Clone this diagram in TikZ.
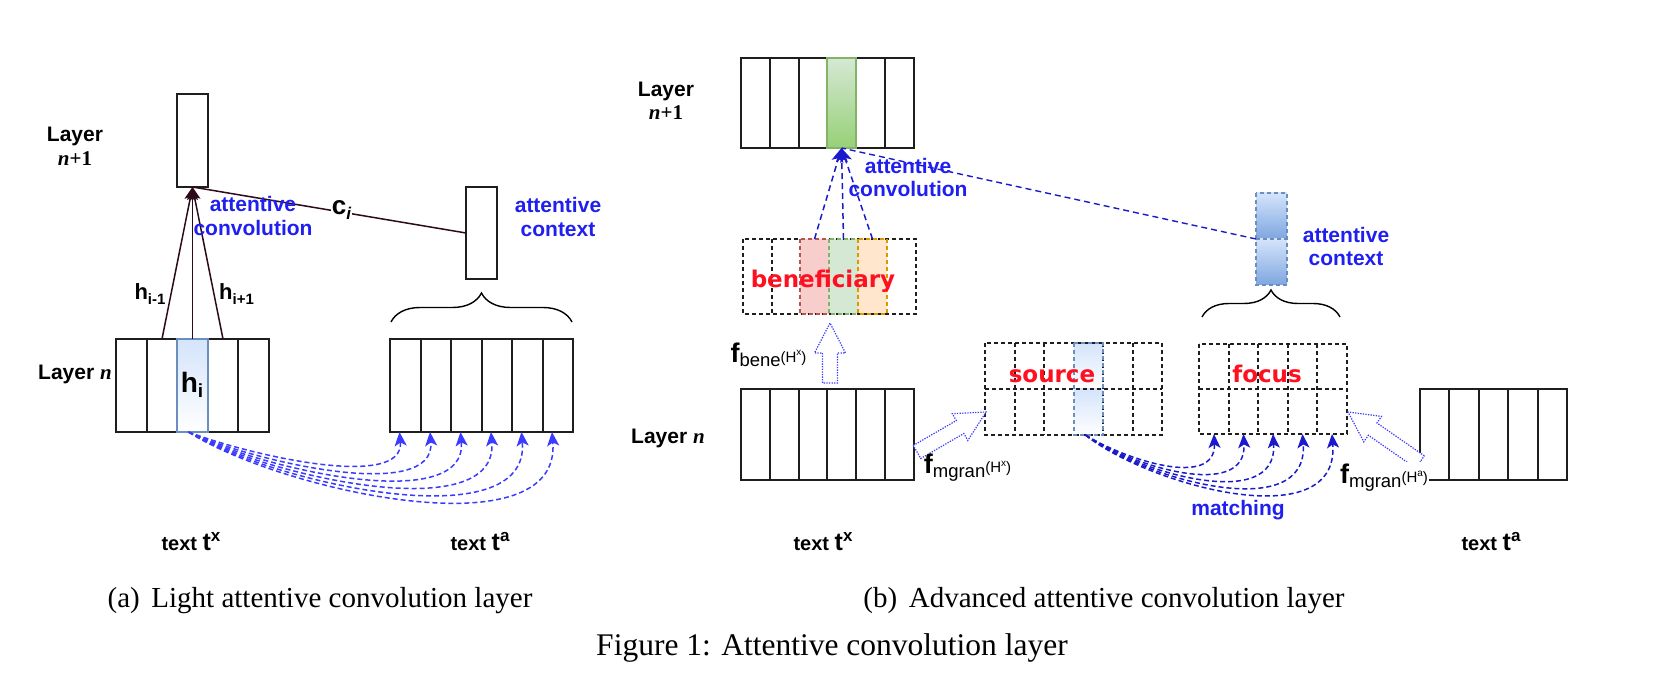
\documentclass[tikz,border=0pt]{standalone}
\usepackage{fontspec}
\setmainfont{Liberation Serif}
\newfontfamily\hv{Liberation Sans}
\newfontfamily\rdfont{DejaVu Sans}
\usetikzlibrary{arrows.meta,decorations.pathreplacing}
\definecolor{darkc}{HTML}{2D0A1A}
\definecolor{lblue}{HTML}{3B3BFF}
\definecolor{dblue}{HTML}{1A1ACC}
\definecolor{tblue}{HTML}{1F1FF0}
\definecolor{tred}{HTML}{FF1020}
\definecolor{bfill}{HTML}{D4E4FB}
\definecolor{bbord}{HTML}{6C8EBF}
\definecolor{bdark}{HTML}{7EA6E0}
\definecolor{gfill}{HTML}{D5E8D4}
\definecolor{gdark}{HTML}{97D077}
\definecolor{gbord}{HTML}{82B366}
\definecolor{rfill}{HTML}{F8CECC}
\definecolor{rbord}{HTML}{B85450}
\definecolor{ofill}{HTML}{FFE6CC}
\definecolor{obord}{HTML}{D79B00}
\definecolor{fgray}{HTML}{1E1E1E}
\newcommand\flab[2]{{\fontsize{27}{27}\selectfont\bfseries f}\raisebox{-4pt}{\fontsize{18.5}{18.5}\selectfont #1}\raisebox{1pt}{\fontsize{15}{15}\selectfont (H\raisebox{6pt}{\fontsize{10}{10}\selectfont #2})}}
\newcommand\hsub[4]{{\fontsize{#1}{#1}\selectfont\bfseries h}\raisebox{-#3}{\fontsize{#2}{#2}\selectfont\bfseries #4}}
\newcommand\tlab[1]{{\fontsize{20}{20}\selectfont\bfseries text }{\fontsize{25}{25}\selectfont\bfseries t}\raisebox{9pt}{\fontsize{17}{17}\selectfont\bfseries #1}}
\begin{document}
\begin{tikzpicture}[x=1pt,y=-1pt,
  cell/.style={draw=fgray, line width=2pt, inner sep=0pt, outer sep=0pt, anchor=north west},
  gcell/.style={draw=none, inner sep=0pt, outer sep=0pt, anchor=north west},
  dgrid/.style={draw=fgray, line width=1.6pt, dash pattern=on 4pt off 3pt},
  lbl/.style={font=\hv\bfseries\fontsize{21}{23.5}\selectfont, align=center, inner sep=0pt},
  blbl/.style={lbl, text=tblue},
  slbl/.style={font=\hv, inner sep=0pt, anchor=base},
  rlbl/.style={font=\rdfont\bfseries\fontsize{23}{23}\selectfont, text=tred, inner sep=0pt, anchor=base},
  captxt/.style={font=\fontsize{29}{29}\selectfont, inner sep=0pt, anchor=base},
  darr/.style={draw=darkc, line width=1.5pt, -{Stealth[length=13pt,width=11pt,inset=3pt]}},
  dline/.style={draw=darkc, line width=1.5pt},
  lcurve/.style={draw=lblue, line width=1.5pt, dash pattern=on 5pt off 3pt, -{Stealth[length=14pt,width=12pt,inset=3.5pt]}},
  barr/.style={draw=dblue, line width=1.5pt, dash pattern=on 6pt off 4pt, -{Stealth[length=14pt,width=12pt,inset=3.5pt]}},
  bdash/.style={draw=dblue, line width=1.4pt, dash pattern=on 6pt off 4pt},
  mcurve/.style={draw=dblue, line width=1.5pt, dash pattern=on 5pt off 3pt, -{Stealth[length=14pt,width=12pt,inset=3.5pt]}},
  blk/.style={draw=lblue, line width=1.2pt, dash pattern=on 1.3pt off 1.3pt, fill=white, line join=miter},
  brc/.style={draw=black, line width=1.4pt, decorate, decoration={brace, amplitude=#1}},
]
\path[use as bounding box] (0,0) rectangle (1668,684);

% ---------------- panel (a) ----------------
\node[cell, minimum width=31pt, minimum height=93pt] (topL) at (177,94) {};
\foreach \i/\x/\w in {1/116/31, 2/147/30, 4/208/30, 5/238/31}
  \node[cell, minimum width=\w pt, minimum height=93pt] (a\i) at (\x,339) {};
\node[cell, draw=bbord, top color=bfill, bottom color=white, minimum width=31pt, minimum height=93pt] (a3) at (177,339) {};
\node[cell, minimum width=31pt, minimum height=92pt] (ctxL) at (466,187) {};
\foreach \i/\x/\w in {1/390/31, 2/421/30, 3/451/31, 4/482/30, 5/512/31, 6/543/30}
  \node[cell, minimum width=\w pt, minimum height=93pt] (b\i) at (\x,339) {};

\draw[dline] (ctxL.west) -- (topL.south);
\draw[darr] (a2.north) -- (topL.south);
\draw[darr] (a3.north) -- (topL.south);
\draw[darr] (a4.north) -- (topL.south);

\foreach \k in {1,...,6}
  \draw[lcurve] ([xshift=-4pt]a3.south) .. controls +({60+6*(\k-1)},{23+7*(\k-1)}) and +({5+(\k-1)},{59+12.5*(\k-1)}) .. ([xshift=-6pt]b\k.south);

\draw[brc=29pt] (391,322) -- (572,322);

\node[lbl] (layL) at (75,146.5) {Layer\\{\rmfamily\itshape n}{\rmfamily +1}};
\node[lbl, anchor=base] (layLn) at (75,380) {Layer {\rmfamily\itshape n}};
\node[slbl] (him) at (150,300) {\hsub{22}{15}{5pt}{i-1}};
\node[slbl] (hip) at (236.5,300) {\hsub{22}{15}{5pt}{i+1}};
\node[slbl] (hi) at (192,393) {\hsub{28}{19}{5pt}{i}};
\node[slbl, fill=white, inner sep=1pt] (ci) at (341.5,215) {{\fontsize{26}{26}\selectfont\bfseries c}\raisebox{-5pt}{\fontsize{17}{17}\selectfont\bfseries\itshape i}};
\node[blbl] (acL) at (253,216) {attentive\\convolution};
\node[blbl] (axL) at (558,217) {attentive\\context};
\node[slbl] (txL) at (191,550) {\tlab{x}};
\node[slbl] (taL) at (480,550) {\tlab{a}};

% ---------------- panel (b) ----------------
\foreach \i/\x/\w in {1/741/29, 2/770/29, 3/799/28, 5/856/29, 6/885/29}
  \node[cell, minimum width=\w pt, minimum height=90pt] (c\i) at (\x,58) {};
\node[cell, draw=gbord, top color=gfill, bottom color=gdark, minimum width=29pt, minimum height=90pt] (c4) at (827,58) {};

% beneficiary row
\foreach \i/\x/\w in {1/743/29, 2/772/28, 6/887/29}
  \node[gcell, minimum width=\w pt, minimum height=75pt] (d\i) at (\x,239) {};
\node[gcell, fill=rfill, minimum width=29pt, minimum height=75pt] (d3) at (800,239) {};
\node[gcell, fill=gfill, minimum width=29pt, minimum height=75pt] (d4) at (829,239) {};
\node[gcell, fill=ofill, minimum width=29pt, minimum height=75pt] (d5) at (858,239) {};
\draw[dgrid] (d1.north west) rectangle (d6.south east);
\foreach \i in {1,...,5} \draw[dgrid] (d\i.north east) -- (d\i.south east);
\draw[dgrid, draw=rbord] (d3.north west) rectangle (d3.south east);
\draw[dgrid, draw=gbord] (d4.north west) rectangle (d4.south east);
\draw[dgrid, draw=obord] (d5.north west) rectangle (d5.south east);

% text t^x cells
\foreach \i/\x/\w in {1/741/29, 2/770/29, 3/799/28, 4/827/29, 5/856/29, 6/885/29}
  \node[cell, minimum width=\w pt, minimum height=91pt] (g\i) at (\x,389) {};

% source grid
\foreach \i/\x/\w in {1/985/30, 2/1015/29, 3/1044/30, 5/1103/30, 6/1133/29} {
  \node[gcell, minimum width=\w pt, minimum height=46pt] (sa\i) at (\x,343) {};
  \node[gcell, minimum width=\w pt, minimum height=46pt] (sb\i) at (\x,389) {};
}
\node[gcell, top color=bfill, bottom color=white, minimum width=29pt, minimum height=46pt] (sa4) at (1074,343) {};
\node[gcell, top color=bfill, bottom color=white, minimum width=29pt, minimum height=46pt] (sb4) at (1074,389) {};
\draw[dgrid] (sa1.north west) rectangle (sb6.south east);
\draw[dgrid] (sa1.south west) -- (sa6.south east);
\foreach \i in {1,...,5} \draw[dgrid] (sa\i.north east) -- (sb\i.south east);
\draw[dgrid, draw=bbord] (sa4.north west) rectangle (sb4.south east);

% focus grid
\foreach \i/\x/\w in {1/1199/30, 2/1229/29, 3/1258/30, 4/1288/29, 5/1317/30} {
  \node[gcell, minimum width=\w pt, minimum height=45pt] (fa\i) at (\x,344) {};
  \node[gcell, minimum width=\w pt, minimum height=45pt] (fb\i) at (\x,389) {};
}
\draw[dgrid] (fa1.north west) rectangle (fb5.south east);
\draw[dgrid] (fa1.south west) -- (fa5.south east);
\foreach \i in {1,...,4} \draw[dgrid] (fa\i.north east) -- (fb\i.south east);

% text t^a cells
\foreach \i/\x/\w in {1/1420/29, 2/1449/30, 3/1479/29, 4/1508/30, 5/1538/29}
  \node[cell, minimum width=\w pt, minimum height=91pt] (k\i) at (\x,389) {};

% attentive context vector
\node[gcell, top color=bfill, bottom color=bdark, minimum width=31pt, minimum height=46pt] (e1) at (1256,193) {};
\node[gcell, top color=bfill, bottom color=bdark, minimum width=31pt, minimum height=46pt] (e2) at (1256,239) {};
\draw[dgrid, draw=bbord] (e1.north west) rectangle (e2.south east);
\draw[dgrid, draw=bbord] (e1.south west) -- (e1.south east);

\draw[bdash] (e1.south west) -- (c4.south);
\draw[barr] (d3.north) -- (c4.south);
\draw[barr] (d4.north) -- (c4.south);
\draw[barr] (d5.north) -- (c4.south);

\foreach \k in {1,...,5}
  \draw[mcurve] ([xshift=-3pt]sb4.south) .. controls +({40+5*(\k-1)},{25+6*(\k-1)}) and +({2+1.5*(\k-1)},{55+12.5*(\k-1)}) .. (fb\k.south);

\draw[brc=27pt] (1202,317) -- (1340,317);

\draw[blk] (822.5,383) -- (822.5,353) -- (814.5,353) -- (830,323) -- (845.5,353) -- (837.5,353) -- (837.5,383) -- cycle;
\draw[blk] (913.24,445.51) -- (956.29,420.56) -- (952.28,413.64) -- (986,412) -- (967.82,440.46) -- (963.81,433.54) -- (920.76,458.49) -- cycle;
\draw[blk] (1424.28,455.84) -- (1376.92,422.95) -- (1381.48,416.38) -- (1348,412) -- (1363.8,441.84) -- (1368.36,435.27) -- (1415.72,468.16) -- cycle;

\node[rlbl] (bene) at (823,288) {beneficiary};
\node[rlbl] (src) at (1052,383) {source};
\node[rlbl] (foc) at (1267,383) {focus};
\node[lbl] (layR) at (666,101) {Layer\\{\rmfamily\itshape n}{\rmfamily +1}};
\node[lbl, anchor=base] (layRn) at (668,443) {Layer {\rmfamily\itshape n}};
\node[blbl] (acR) at (908,177.5) {attentive\\convolution};
\node[blbl] (axR) at (1346,246.5) {attentive\\context};
\node[blbl, anchor=base] (mat) at (1238,515) {matching};
\node[slbl] (fbl) at (768.5,363) {\flab{bene}{x}};
\node[slbl] (fmx) at (967.5,473) {\flab{mgran}{x}};
\node[slbl, fill=white, inner sep=1pt] (fma) at (1384,483) {\flab{mgran}{a}};
\node[slbl] (txR) at (823,550) {\tlab{x}};
\node[slbl] (taR) at (1491,550) {\tlab{a}};

% ---------------- captions ----------------
\node[captxt] (capa) at (320,607) {(a)\hspace{0.4em}Light attentive convolution layer};
\node[captxt] (capb) at (1104,607) {(b)\hspace{0.4em}Advanced attentive convolution layer};
\node[captxt, font=\fontsize{31.5}{31.5}\selectfont] (fig) at (832,655) {Figure 1: Attentive convolution layer};
\end{tikzpicture}
\end{document}
